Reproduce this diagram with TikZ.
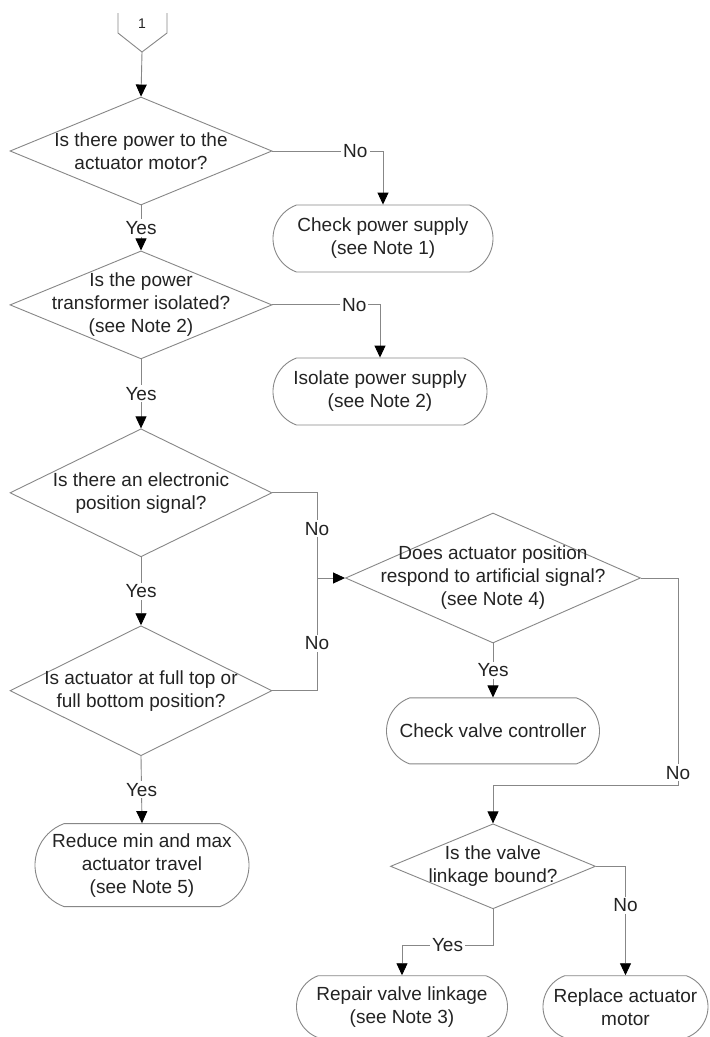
\documentclass[tikz,border=0pt]{standalone}
\usepackage{fontspec}
\setmainfont{Liberation Sans}
\usetikzlibrary{arrows.meta,positioning,shapes.geometric,shapes.misc,calc}
\definecolor{lineCol}{RGB}{135,135,135}
\definecolor{txtCol}{RGB}{35,35,35}
\tikzset{
  base/.style={draw=lineCol,line width=0.9pt,font=\fontsize{19}{23}\selectfont,
               text=txtCol,align=center},
  decision/.style={base,diamond,inner sep=0pt},
  qtext/.style={font=\fontsize{19}{23}\selectfont,text=txtCol,align=center,inner sep=0pt},
  term/.style={base,rounded rectangle,rounded rectangle arc length=140,inner sep=0pt},
  line/.style={draw=lineCol,line width=0.9pt},
  flow/.style={line,-{Triangle[length=12pt,width=11pt,color=black]}},
  lab/.style={font=\fontsize{19}{23}\selectfont,text=txtCol,fill=white,inner sep=2pt},
}

\begin{document}
\begin{tikzpicture}[x=1pt,y=1pt]
    \fill[white] (0,0) rectangle (710,-1037);
    \useasboundingbox (0,0) rectangle (710,-1037);
    % off-page connector
    \node[font=\fontsize{14}{16}\selectfont,text=txtCol] (c1) at (142,-24) {1};
    \coordinate (c1tip) at (142,-52);
    \draw[line] (118,-13) -- (118,-33) -- (c1tip) -- (167,-33) -- (167,-13);
    % left column
    \node[decision,minimum width=262pt,minimum height=108pt,
          label={[qtext]center:Is there power to the\\actuator motor?}] (q1) at (141,-151) {};
    \node[decision,minimum width=262pt,minimum height=108pt,below=45pt of q1,
          label={[qtext]center:Is the power\\transformer isolated?\\(see Note 2)}] (q2) {};
    \node[decision,minimum width=262pt,minimum height=128pt,below=69pt of q2,
          label={[qtext]center:Is there an electronic\\position signal?}] (q3) {};
    \node[decision,minimum width=262pt,minimum height=130pt,below=68pt of q3,
          label={[qtext]center:Is actuator at full top or\\full bottom position?}] (q4) {};
    \node[term,minimum width=214pt,minimum height=83pt,below=67pt of q4,xshift=1pt] (t4)
      {Reduce min and max\\actuator travel\\(see Note 5)};
    % right column
    \node[term,minimum width=220pt,minimum height=67pt] (t1) at (383,-238.5)
      {Check power supply\\(see Note 1)};
    \node[term,minimum width=214pt,minimum height=67pt] (t2) at (380,-391.5)
      {Isolate power supply\\(see Note 2)};
    \node[decision,minimum width=295pt,minimum height=130pt,
          label={[qtext]center:Does actuator position\\respond to artificial signal?\\(see Note 4)}] (q5) at (493,-578) {};
    \node[term,minimum width=213pt,minimum height=66pt,below=54pt of q5] (t3)
      {Check valve controller};
    \node[decision,minimum width=205pt,minimum height=85pt,below=59pt of t3,
          label={[qtext]center:Is the valve\\linkage bound?}] (q6) {};
    \node[term,minimum width=211pt,minimum height=62pt,below=66pt of q6,xshift=-91pt] (t5)
      {Repair valve linkage\\(see Note 3)};
    \node[term,minimum width=165pt,minimum height=62pt,below=66pt of q6,xshift=132.5pt] (t6)
      {Replace actuator\\motor};
    % connectors
    \draw[flow] (c1tip) -- (q1.north);
    \draw[flow] (q1.south) -- node[lab]{Yes} (q2.north);
    \draw[flow] (q2.south) -- node[lab]{Yes} (q3.north);
    \draw[flow] (q3.south) -- node[lab]{Yes} (q4.north);
    \draw[flow] (q4.south) -- node[lab]{Yes} (t4.north);
    \draw[flow] (q1.east) -- node[lab,pos=.75]{No} (q1.east -| t1.north) -- (t1.north);
    \draw[flow] (q2.east) -- node[lab,pos=.76]{No} (q2.east -| t2.north) -- (t2.north);
    \coordinate[left=28pt of q5.west] (j1);
    \draw[line] (q3.east) -| node[lab,pos=.71]{No} (j1);
    \draw[line] (q4.east) -| node[lab,pos=.71]{No} (j1);
    \draw[flow] (j1) -- (q5.west);
    \draw[flow] (q5.south) -- node[lab]{Yes} (t3.north);
    \coordinate (j2) at ($(q5.east)+(37,-207)$);
    \draw[flow] (q5.east) -| node[lab,pos=.97]{No} (j2) -| (q6.north);
    \draw[flow] (q6.south) -- ++(0,-36) -| node[lab,pos=.25]{Yes} (t5.north);
    \draw[flow] (q6.east) -| node[lab,pos=.68]{No} (t6.north);
\end{tikzpicture}
\end{document}
